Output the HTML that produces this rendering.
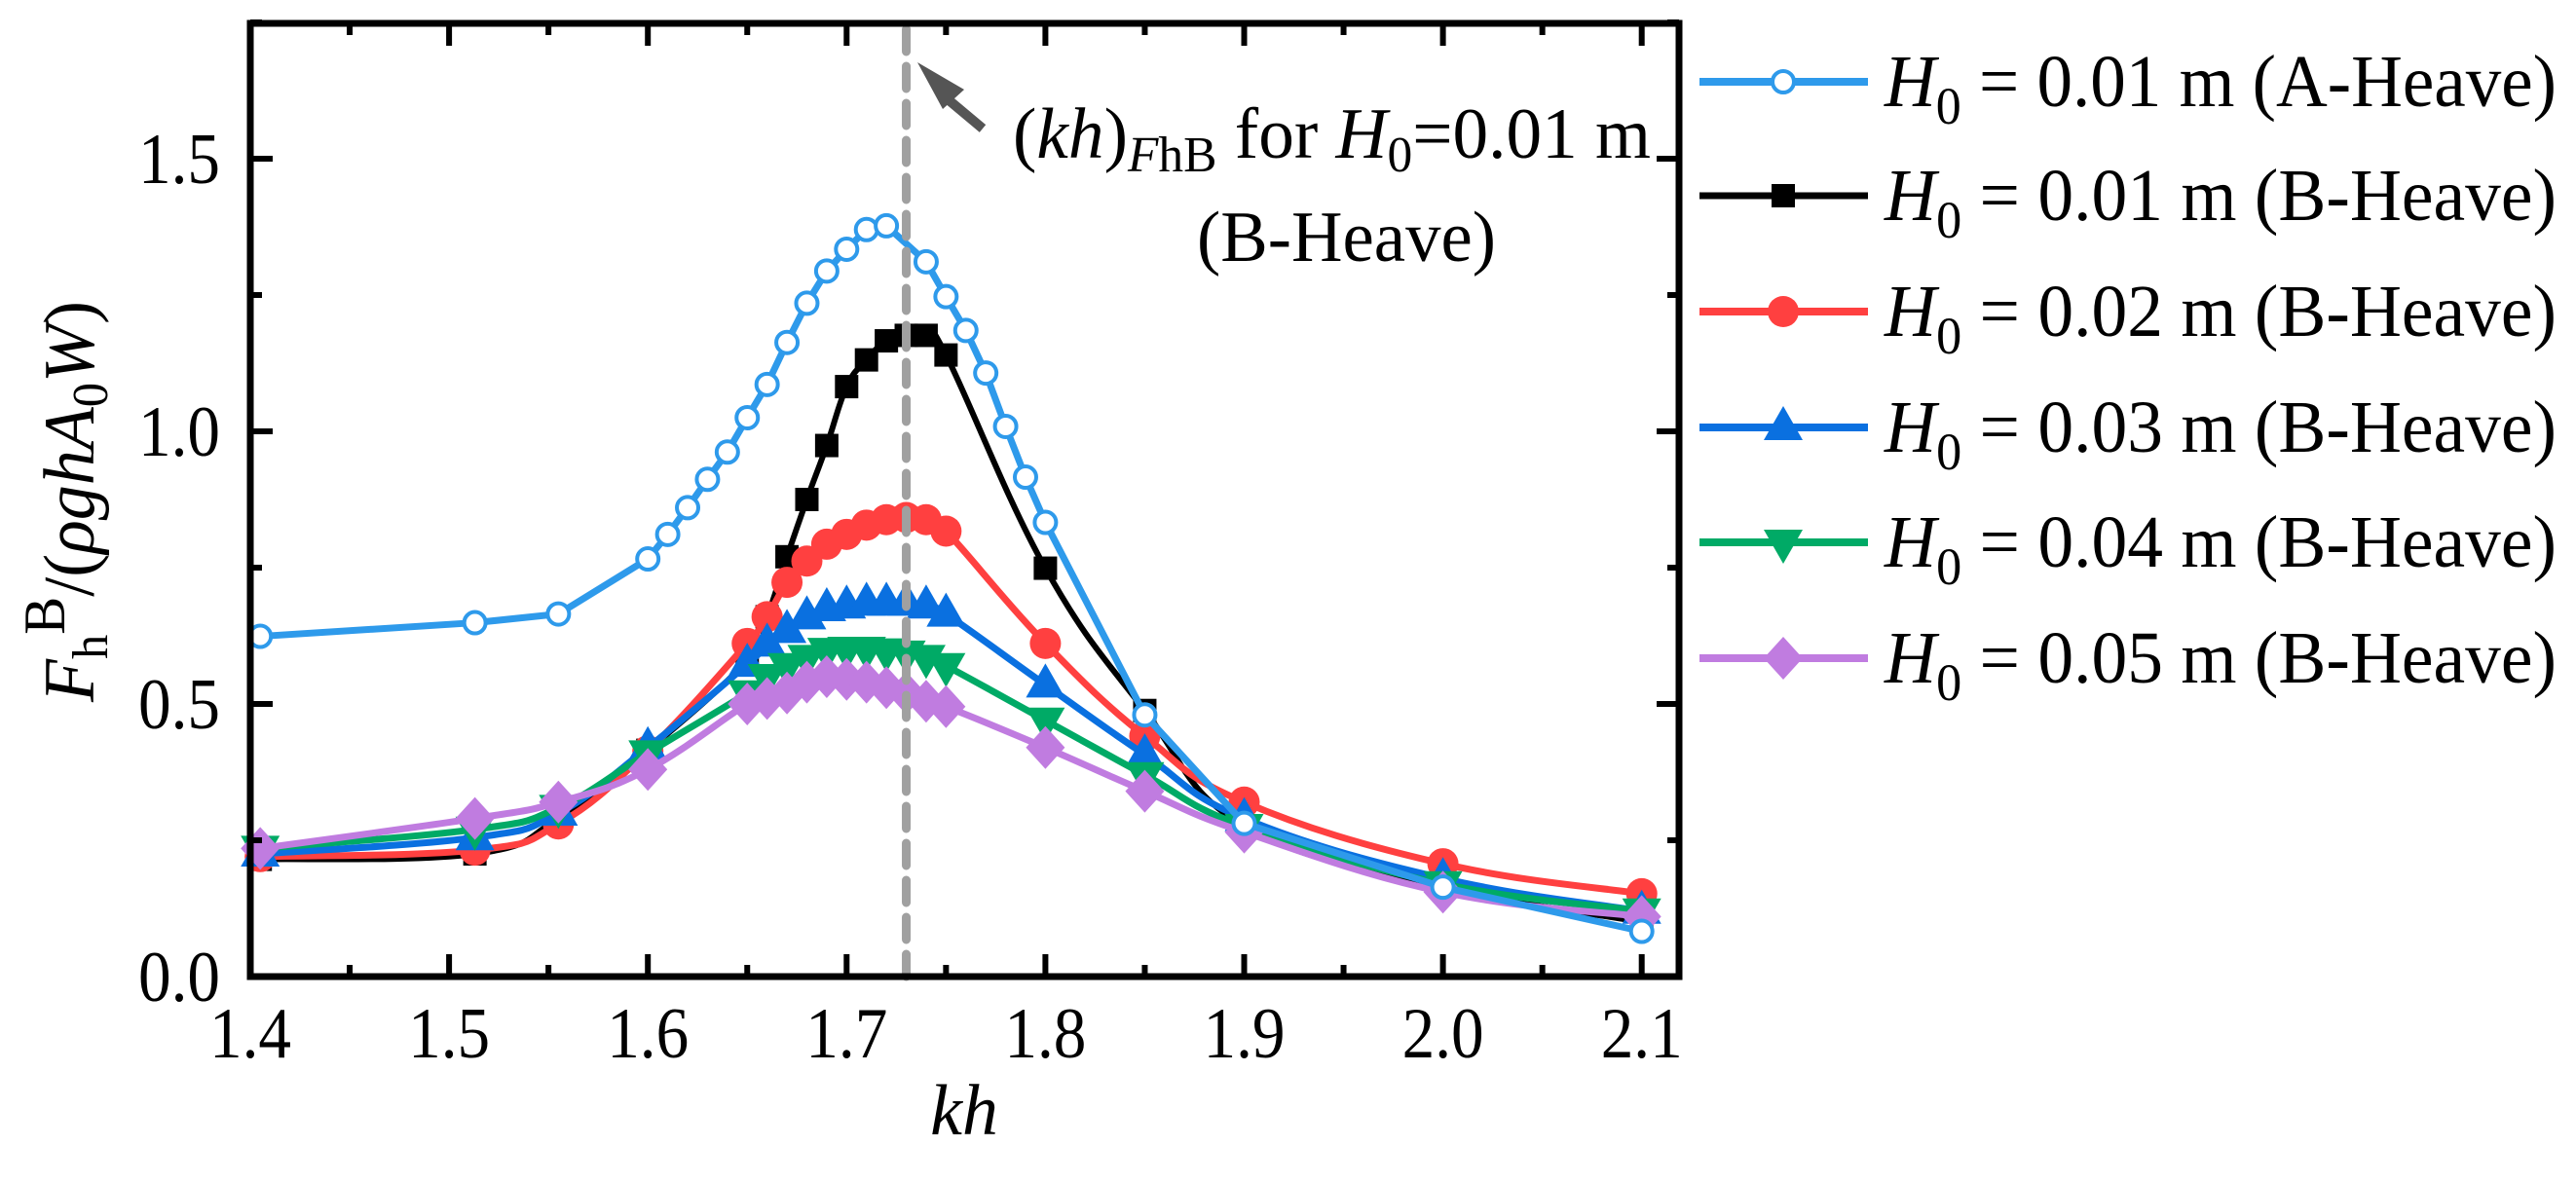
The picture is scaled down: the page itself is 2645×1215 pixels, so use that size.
<!DOCTYPE html>
<html><head><meta charset="utf-8"><style>
html,body{margin:0;padding:0;background:#fff;font-family:"Liberation Serif","Times New Roman","DejaVu Serif",serif;}
svg, svg text, svg tspan{font-family:"Liberation Serif","Times New Roman","DejaVu Serif",serif;}
</style></head><body>
<svg id="chart" width="2645" height="1210" viewBox="0 0 2645 1210" xmlns="http://www.w3.org/2000/svg" font-family="Liberation Serif, serif">
<g id="plot"></g>
<g id="axes"></g>
<g id="legend"></g>
</svg>
<script>
const xA = [1.405,1.513,1.555,1.6,1.61,1.62,1.63,1.64,1.65,1.66,1.67,1.68,1.69,1.70,1.71,1.72,1.74,1.75,1.76,1.77,1.78,1.79,1.80,1.85,1.90,2.0,2.1];
const yA = [0.624,0.649,0.665,0.766,0.811,0.86,0.912,0.962,1.025,1.086,1.163,1.235,1.294,1.334,1.37,1.377,1.311,1.247,1.185,1.107,1.009,0.916,0.833,0.48,0.281,0.164,0.083];
const xB = [1.405,1.513,1.555,1.6,1.65,1.66,1.67,1.68,1.69,1.70,1.71,1.72,1.73,1.74,1.75,1.80,1.85,1.90,2.0,2.1];
const yB1 = [0.215,0.225,0.29,0.415,0.58,0.66,0.77,0.875,0.974,1.082,1.131,1.166,1.176,1.176,1.14,0.749,0.488,0.276,0.165,0.1];
const yB2 = [0.22,0.232,0.28,0.414,0.611,0.66,0.723,0.762,0.793,0.811,0.828,0.838,0.842,0.838,0.817,0.611,0.441,0.32,0.207,0.152];
const yB3 = [0.225,0.255,0.3,0.42,0.573,0.61,0.635,0.66,0.675,0.68,0.685,0.685,0.685,0.68,0.665,0.535,0.407,0.29,0.18,0.12];
const yB4 = [0.235,0.27,0.31,0.41,0.52,0.55,0.57,0.585,0.598,0.60,0.60,0.597,0.593,0.585,0.57,0.47,0.37,0.275,0.17,0.12];
const yB5 = [0.235,0.29,0.32,0.38,0.50,0.51,0.52,0.54,0.55,0.545,0.54,0.53,0.52,0.505,0.495,0.42,0.34,0.265,0.155,0.11];
const xTicks = ["1.4","1.5","1.6","1.7","1.8","1.9","2.0","2.1"];
const yTicks = ["0.0","0.5","1.0","1.5"];
const legendLabels = ["0.01 m (A-Heave)","0.01 m (B-Heave)","0.02 m (B-Heave)","0.03 m (B-Heave)","0.04 m (B-Heave)","0.05 m (B-Heave)"];
const markLine = 1.73;

const NS="http://www.w3.org/2000/svg";
const FF="Liberation Serif, Times New Roman, serif";
const X0=257, XS=2041, Y0=1003, YS=560, L=257, R=1724, T=24, B=1003;
const sx=v=>X0+(v-1.4)*XS, sy=v=>Y0-v*YS;
function el(tag,attrs,parent){const e=document.createElementNS(NS,tag);for(const k in attrs)e.setAttribute(k,attrs[k]);parent.appendChild(e);return e;}
const plot=document.getElementById('plot'), axes=document.getElementById('axes'), leg=document.getElementById('legend');

function spline(xs,ys,tens){
  const p=xs.map((x,i)=>[sx(x),sy(ys[i])]);
  let d=`M${p[0][0]},${p[0][1]}`;
  for(let i=0;i<p.length-1;i++){
    const p0=p[i-1]||p[i],p1=p[i],p2=p[i+1],p3=p[i+2]||p2;
    const c1=[p1[0]+(p2[0]-p0[0])/tens,p1[1]+(p2[1]-p0[1])/tens];
    const c2=[p2[0]-(p3[0]-p1[0])/tens,p2[1]-(p3[1]-p1[1])/tens];
    d+=`C${c1[0]},${c1[1]} ${c2[0]},${c2[1]} ${p2[0]},${p2[1]}`;
  }
  return d;
}
function marker(kind,x,y,color,parent){
  let m;
  if(kind==='ocircle') m=el('circle',{cx:x,cy:y,r:11,fill:'#fff',stroke:color,'stroke-width':4},parent);
  else if(kind==='square') m=el('rect',{x:x-12,y:y-12,width:24,height:24,fill:color},parent);
  else if(kind==='circle') m=el('circle',{cx:x,cy:y,r:16,fill:color},parent);
  else if(kind==='tri') m=el('polygon',{points:`${x},${y-22} ${x-20},${y+13} ${x+20},${y+13}`,fill:color},parent);
  else if(kind==='itri') m=el('polygon',{points:`${x},${y+22} ${x-20},${y-13} ${x+20},${y-13}`,fill:color},parent);
  else m=el('polygon',{points:`${x},${y-22} ${x+20},${y} ${x},${y+22} ${x-20},${y}`,fill:color},parent);
  return m;
}
const series=[
  {n:'a-heave-001',xs:xA,ys:yA,c:'#2E9AEB',m:'ocircle',w:7,smooth:false},
  {n:'b-heave-001',xs:xB,ys:yB1,c:'#000000',m:'square',w:6,smooth:true},
  {n:'b-heave-002',xs:xB,ys:yB2,c:'#FF4040',m:'circle',w:7,smooth:true},
  {n:'b-heave-003',xs:xB,ys:yB3,c:'#0A70E0',m:'tri',w:7,smooth:true},
  {n:'b-heave-004',xs:xB,ys:yB4,c:'#00AA66',m:'itri',w:7,smooth:true},
  {n:'b-heave-005',xs:xB,ys:yB5,c:'#C07CE0',m:'diamond',w:7,smooth:true}
];
const order=[1,2,3,4,5,0];
order.forEach(i=>{
  const s=series[i];
  const g=el('g',{},plot);
  
  
  const d=s.smooth?spline(s.xs,s.ys,5):'M'+s.xs.map((x,j)=>sx(x)+','+sy(s.ys[j])).join('L');
  const line=el('path',{d:d,fill:'none',stroke:s.c,'stroke-width':s.w,'stroke-linejoin':'round'},g);
  
  
  s.xs.forEach((x,j)=>{
    const m=marker(s.m,sx(x),sy(s.ys[j]),s.c,g);
    
    
  });
});
const dl=el('line',{x1:sx(markLine),x2:sx(markLine),y1:T+6,y2:B,stroke:'#A0A0A0','stroke-width':9,'stroke-dasharray':'23 15','stroke-linecap':'round'},plot);


const ar=el('g',{},plot);


el('line',{x1:1009,y1:132,x2:966,y2:96,stroke:'#555','stroke-width':10},ar);
el('polygon',{points:'942,64 990,92 968,112',fill:'#555'},ar);

const fr=el('rect',{x:L,y:T,width:R-L,height:B-T,fill:'none',stroke:'#000','stroke-width':7},axes);


for(let k=0;k<=14;k++){
  const v=1.4+k*0.05, x=sx(v), len=(k%2===0)?23:12;
  el('line',{x1:x,x2:x,y1:B,y2:B-len,stroke:'#000','stroke-width':6},axes);
  el('line',{x1:x,x2:x,y1:T,y2:T+len,stroke:'#000','stroke-width':6},axes);
}
for(let k=0;k<=7;k++){
  const v=k*0.25, y=sy(v), len=(k%2===0)?23:12;
  el('line',{x1:L,x2:L+len,y1:y,y2:y,stroke:'#000','stroke-width':6},axes);
  el('line',{x1:R,x2:R-len,y1:y,y2:y,stroke:'#000','stroke-width':6},axes);
}
xTicks.forEach(t=>{
  const tx=el('text',{x:sx(parseFloat(t)),y:1086,'font-size':74,'font-family':FF,'text-anchor':'middle',textLength:84,lengthAdjust:'spacingAndGlyphs'},axes);
  tx.textContent=t;
  
  
});
yTicks.forEach(t=>{
  const tx=el('text',{x:226,y:sy(parseFloat(t))+25,'font-size':74,'font-family':FF,'text-anchor':'end',textLength:84,lengthAdjust:'spacingAndGlyphs'},axes);
  tx.textContent=t;
  
  
});
</script>
<script>
const svg=document.getElementById('chart');
const extra=`
<text x="990" y="1165" font-family="Liberation Serif, serif" font-size="74" font-style="italic" text-anchor="middle">kh</text>
<text transform="translate(96,515) rotate(-90)" font-family="Liberation Serif, serif" font-size="74" text-anchor="middle" textLength="412" lengthAdjust="spacingAndGlyphs"><tspan font-style="italic">F</tspan><tspan font-size="52" dy="14">h</tspan><tspan dy="-44" font-size="60">B</tspan><tspan dy="30">/(</tspan><tspan font-style="italic">ρghA</tspan><tspan font-size="52" dy="14">0</tspan><tspan font-style="italic" dy="-14">W</tspan>)</text>
<text x="1040" y="162" font-family="Liberation Serif, serif" font-size="74" textLength="655" lengthAdjust="spacingAndGlyphs">(<tspan font-style="italic">kh</tspan>)<tspan font-style="italic" font-size="52" dy="14">F</tspan><tspan font-size="52">hB</tspan><tspan dy="-14"> for </tspan><tspan font-style="italic">H</tspan><tspan font-size="52" dy="14">0</tspan><tspan dy="-14">=0.01 m</tspan></text>
<text x="1229" y="268" font-family="Liberation Serif, serif" font-size="74" textLength="307" lengthAdjust="spacingAndGlyphs">(B-Heave)</text>`;
svg.insertAdjacentHTML('beforeend',extra);
const rowsY=[84,201,320,439,557,676];
const legG=document.getElementById('legend');
rowsY.forEach((y,i)=>{
  const s=series[i];
  const g=el('g',{},legG);
  
  
  el('line',{x1:1745,x2:1918,y1:y,y2:y,stroke:s.c,'stroke-width':s.w+1},g);
  marker(s.m,1831,y,s.c,g);
  const t=el('text',{x:1935,y:y+25,'font-size':76,'font-family':FF,textLength:690,lengthAdjust:'spacingAndGlyphs'},g);
  t.innerHTML='<tspan font-style="italic">H</tspan><tspan font-size="54" dy="18">0</tspan><tspan dy="-18"> = '+legendLabels[i]+'</tspan>';
});
</script>
</body></html>
